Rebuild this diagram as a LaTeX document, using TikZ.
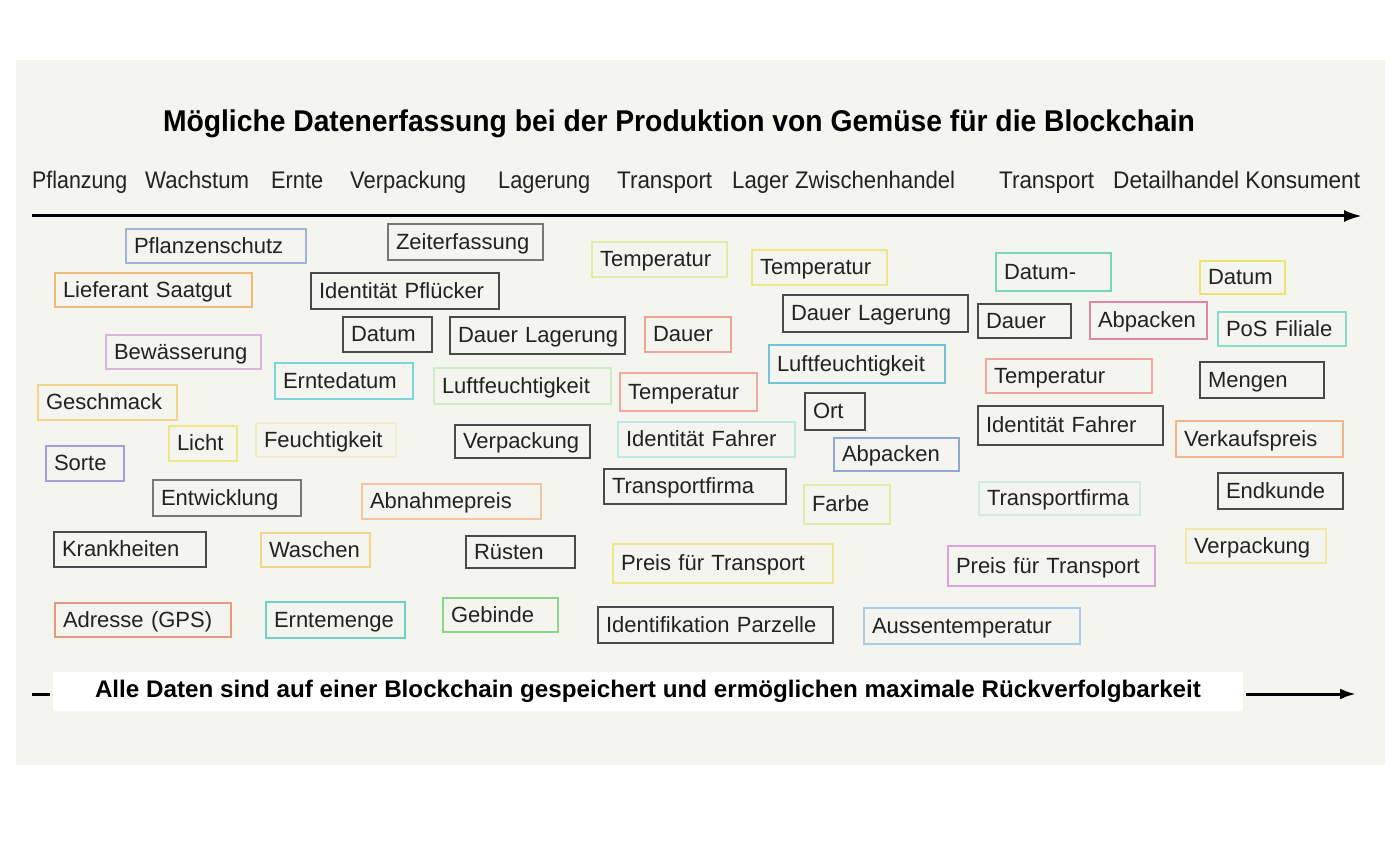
\documentclass[tikz,border=0pt]{standalone}
\usepackage{fontspec}
\usepackage{graphicx}
\setmainfont{Liberation Sans}
\usetikzlibrary{arrows.meta}
\definecolor{bgc}{HTML}{F3F5EE}
\definecolor{txt}{HTML}{222222}
\definecolor{dk}{HTML}{4A4A4A}
\definecolor{gr}{HTML}{777777}
\definecolor{cblue}{HTML}{9AB5D8}
\definecolor{corange}{HTML}{F0B87A}
\definecolor{clilac}{HTML}{D9B6DD}
\definecolor{cyelor}{HTML}{F0D58A}
\definecolor{cyel}{HTML}{EFE58A}
\definecolor{cpaley}{HTML}{F1EDC8}
\definecolor{cpurple}{HTML}{A89BD8}
\definecolor{csalmon}{HTML}{E59A80}
\definecolor{cteal}{HTML}{6FD0C8}
\definecolor{ccyan}{HTML}{7DD3DF}
\definecolor{cpgreen}{HTML}{CDEBC4}
\definecolor{cpeach}{HTML}{F2C4A2}
\definecolor{cgreen}{HTML}{8BD48A}
\definecolor{cyg}{HTML}{E2EBA6}
\definecolor{csal2}{HTML}{EDA58F}
\definecolor{cpink}{HTML}{EFA9A2}
\definecolor{cpcyan}{HTML}{BDE8E3}
\definecolor{ccyan2}{HTML}{6FC3DA}
\definecolor{cblue2}{HTML}{8FA8D8}
\definecolor{clblue}{HTML}{A8CBE8}
\definecolor{cteal2}{HTML}{7AD4BC}
\definecolor{cmag}{HTML}{DD86A8}
\definecolor{cpgreen2}{HTML}{CDEFD9}
\definecolor{clilac2}{HTML}{D9A3DD}
\definecolor{cyel2}{HTML}{EFE370}
\definecolor{cteal3}{HTML}{8ADCC8}
\definecolor{corange2}{HTML}{F4B48C}
\definecolor{cpyel}{HTML}{F3E6A6}
\newcommand\fitw[2]{\sbox0{#2}\pgfmathsetmacro\fitsc{#1/\the\wd0}\scalebox{\fitsc}[1]{\usebox0}}
\newcommand\bx[7]{%
  \pgfmathsetmacro\bxw{#4-#2-16}%
  \pgfmathsetmacro\bxh{#5-#3}%
  \node[tbox,draw=#6,text width=\bxw pt,minimum height=\bxh pt] (#1) at ({(#2+#4)/2},{(#3+#5)/2}) {\mbox{#7}};}
\tikzset{
  tbox/.style={rectangle,line width=1.4pt,inner xsep=8pt,inner ysep=0pt,align=left,
    text=txt,font=\fontsize{22}{25}\selectfont,text height=18.5pt,text depth=4pt},
  stage/.style={anchor=base west,inner sep=0pt,text=txt,font=\fontsize{24}{28}\selectfont},
  titlestyle/.style={inner sep=0pt,text=black,font=\bfseries\fontsize{30}{34}\selectfont},
  axis/.style={line width=3pt,draw=black},
}
\begin{document}
\begin{tikzpicture}[x=1pt,y=-1pt]
\useasboundingbox (0,0) rectangle (1400,861);
\fill[white] (0,0) rectangle (1400,861);
\fill[bgc] (16,60) rectangle (1385,765);
\node[titlestyle,anchor=base] (title) at (679,132) {\fitw{1032}{Mögliche Datenerfassung bei der Produktion von Gemüse für die Blockchain}};
% stages
\node[stage] (s1) at (32,189) {\fitw{95}{Pflanzung}};
\node[stage] (s2) at (145,189) {\fitw{104}{Wachstum}};
\node[stage] (s3) at (271,189) {\fitw{52}{Ernte}};
\node[stage] (s4) at (350,189) {\fitw{116}{Verpackung}};
\node[stage] (s5) at (498,189) {\fitw{92}{Lagerung}};
\node[stage] (s6) at (617,189) {\fitw{95}{Transport}};
\node[stage] (s7) at (732,189) {\fitw{223}{Lager Zwischenhandel}};
\node[stage] (s8) at (999,189) {\fitw{95}{Transport}};
\node[stage] (s9) at (1113,189) {\fitw{247}{Detailhandel Konsument}};
\coordinate (a0) at (32,216);
\coordinate (a1) at (1362,216);
\draw[axis,-{Latex[length=18pt,width=12pt]}] (a0) -- (a1);
% boxes
\bx{b1}{126}{229}{306}{263}{cblue}{Pflanzenschutz}
\bx{b2}{55}{273}{252}{307}{corange}{Lieferant Saatgut}
\bx{b3}{106}{335}{261}{369}{clilac}{Bewässerung}
\bx{b4}{38}{385}{177}{420}{cyelor}{Geschmack}
\bx{b5}{169}{426}{237}{461}{cyel}{Licht}
\bx{b6}{256}{423}{396}{457}{cpaley}{Feuchtigkeit}
\bx{b7}{46}{446}{124}{481}{cpurple}{Sorte}
\bx{b8}{153}{480}{301}{516}{gr}{Entwicklung}
\bx{b9}{54}{532}{206}{567}{dk}{Krankheiten}
\bx{b10}{55}{603}{231}{637}{csalmon}{Adresse (GPS)}
\bx{b11}{266}{602}{405}{638}{cteal}{Erntemenge}
\bx{b12}{261}{533}{370}{567}{cyelor}{Waschen}
\bx{b13}{388}{224}{543}{260}{gr}{Zeiterfassung}
\bx{b14}{311}{273}{499}{309}{dk}{Identität Pflücker}
\bx{b15}{343}{317}{432}{352}{dk}{Datum}
\bx{b16}{450}{317}{625}{354}{dk}{Dauer Lagerung}
\bx{b17}{275}{363}{413}{399}{ccyan}{Erntedatum}
\bx{b18}{434}{368}{611}{404}{cpgreen}{Luftfeuchtigkeit}
\bx{b19}{455}{425}{590}{458}{dk}{Verpackung}
\bx{b20}{362}{484}{541}{519}{cpeach}{Abnahmepreis}
\bx{b21}{466}{536}{575}{568}{dk}{Rüsten}
\bx{b22}{443}{598}{558}{632}{cgreen}{Gebinde}
\bx{b23}{592}{242}{727}{277}{cyg}{Temperatur}
\bx{b24}{752}{250}{887}{285}{cyel}{Temperatur}
\bx{b25}{645}{317}{731}{352}{csal2}{Dauer}
\bx{b26}{620}{373}{757}{411}{cpink}{Temperatur}
\bx{b27}{618}{422}{795}{457}{cpcyan}{Identität Fahrer}
\bx{b28}{604}{469}{786}{504}{dk}{Transportfirma}
\bx{b29}{613}{544}{833}{583}{cyel}{Preis für Transport}
\bx{b30}{598}{607}{833}{643}{dk}{Identifikation Parzelle}
\bx{b31}{783}{295}{968}{332}{dk}{Dauer Lagerung}
\bx{b32}{769}{345}{945}{383}{ccyan2}{Luftfeuchtigkeit}
\bx{b33}{805}{393}{865}{430}{dk}{Ort}
\bx{b34}{834}{438}{959}{471}{cblue2}{Abpacken}
\bx{b35}{804}{485}{890}{524}{cyg}{Farbe}
\bx{b36}{864}{608}{1080}{644}{clblue}{Aussentemperatur}
\bx{b37}{996}{253}{1111}{291}{cteal2}{Datum-}
\bx{b38}{978}{304}{1071}{338}{dk}{Dauer}
\bx{b39}{1090}{302}{1207}{339}{cmag}{Abpacken}
\bx{b40}{986}{359}{1152}{393}{cpink}{Temperatur}
\bx{b41}{978}{406}{1163}{445}{dk}{Identität Fahrer}
\bx{b42}{979}{482}{1140}{515}{cpgreen2}{Transportfirma}
\bx{b43}{948}{546}{1155}{586}{clilac2}{Preis für Transport}
\bx{b44}{1200}{261}{1285}{294}{cyel2}{Datum}
\bx{b45}{1218}{312}{1346}{346}{cteal3}{PoS Filiale}
\bx{b46}{1200}{362}{1324}{398}{dk}{Mengen}
\bx{b47}{1176}{421}{1343}{457}{corange2}{Verkaufspreis}
\bx{b48}{1218}{473}{1343}{509}{dk}{Endkunde}
\bx{b49}{1186}{529}{1326}{563}{cpyel}{Verpackung}
% bottom band
\node[fill=white,minimum width=1190pt,minimum height=39pt,inner sep=0pt,text=black,
  font=\bfseries\fontsize{24}{28}\selectfont] (band) at (648,691.5)
  {\fitw{1106}{Alle Daten sind auf einer Blockchain gespeichert und ermöglichen maximale Rückverfolgbarkeit}};
\coordinate (d0) at (32,694);
\coordinate (d1) at (50,694);
\draw[axis] (d0) -- (d1);
\coordinate (e0) at (1246,694);
\coordinate (e1) at (1356,694);
\draw[axis,-{Latex[length=16pt,width=11pt]}] (e0) -- (e1);
\end{tikzpicture}
\end{document}
